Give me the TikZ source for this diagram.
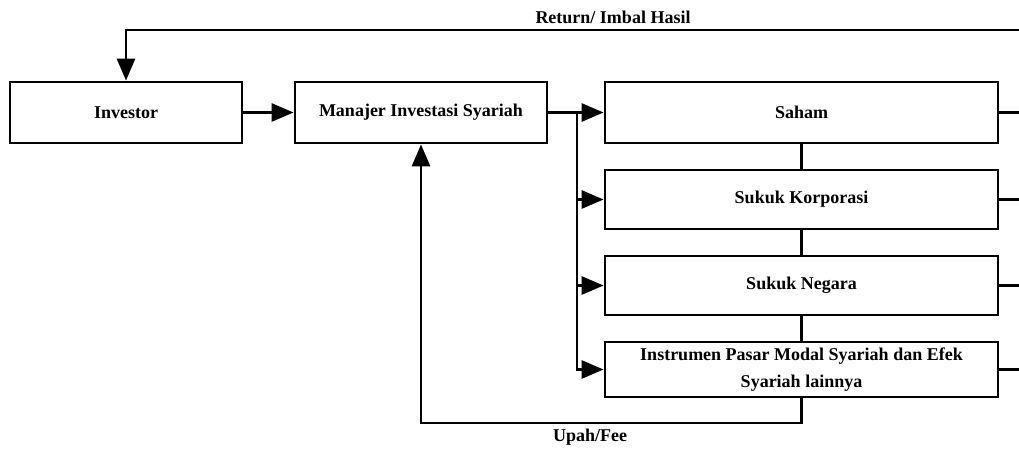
\documentclass[tikz,border=0pt]{standalone}
\usepackage{fontspec}
\setmainfont{Liberation Serif}
\usetikzlibrary{arrows.meta}
\begin{document}
\begin{tikzpicture}[x=1pt,y=-1pt,
  box/.style={draw,line width=2.8pt,minimum width=#1,inner sep=0pt,align=center,font=\bfseries\fontsize{18}{27}\selectfont},
  conn/.style={line width=2.8pt},
  arr/.style={conn,-{Triangle[length=22pt,width=18pt]}},
  lbl/.style={font=\bfseries\fontsize{18}{20}\selectfont,inner sep=0pt}]
\useasboundingbox (0,0) rectangle (1019,450);
\node[box=232pt,minimum height=61pt] (inv) at (126,112.5) {Investor};
\node[box=252pt,minimum height=61pt] (mgr) at (421,112.5) {Manajer Investasi Syariah};
\node[box=393pt,minimum height=61pt] (sah) at (801.5,112.5) {Saham};
\node[box=393pt,minimum height=59pt] (kor) at (801.5,199.5) {Sukuk Korporasi};
\node[box=393pt,minimum height=59pt] (neg) at (801.5,285.5) {Sukuk Negara};
\node[box=393pt,minimum height=55pt] (ins) at (801.5,369.5) {Instrumen Pasar Modal Syariah dan Efek\\Syariah lainnya};
\coordinate (rt) at (1019,30);
\coordinate (s1) at (1019,112.5);
\coordinate (s2) at (1019,199.5);
\coordinate (s3) at (1019,285.5);
\coordinate (s4) at (1019,369.5);
\coordinate (br) at (577,112.5);
\coordinate (fb) at (801.5,423);
\draw[arr] (rt) -| (inv.north);
\draw[arr] (inv.east) -- (mgr.west);
\draw[arr] (mgr.east) -- (sah.west);
\draw[arr] (br) |- (kor.west);
\draw[arr] (br) |- (neg.west);
\draw[arr] (br) |- (ins.west);
\draw[conn] (sah.south) -- (kor.north);
\draw[conn] (kor.south) -- (neg.north);
\draw[conn] (neg.south) -- (ins.north);
\draw[arr] (ins.south) -- (fb) -| (mgr.south);
\draw[conn] (sah.east) -- (s1);
\draw[conn] (kor.east) -- (s2);
\draw[conn] (neg.east) -- (s3);
\draw[conn] (ins.east) -- (s4);
\node[lbl] (ret) at (613,17) {Return/ Imbal Hasil};
\node[lbl] (fee) at (590,437) {Upah/Fee};
\end{tikzpicture}
\end{document}
